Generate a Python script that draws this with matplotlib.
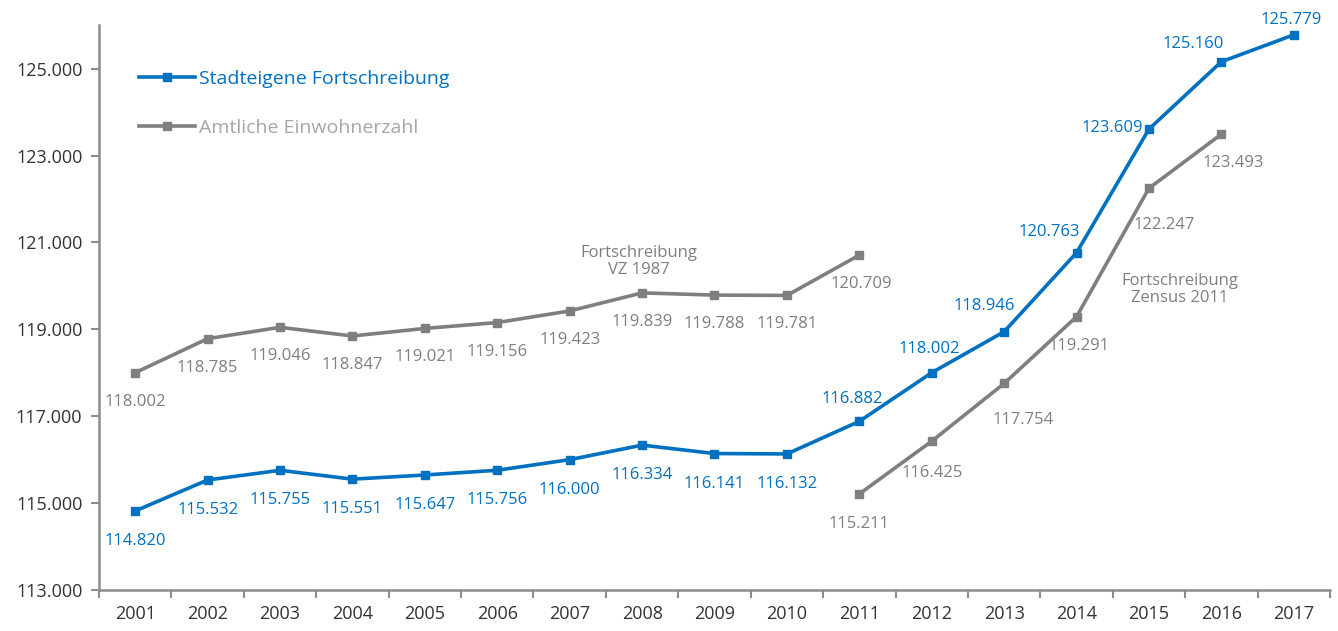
import matplotlib
matplotlib.use('Agg')
import matplotlib.pyplot as plt
import numpy as np

# --- DATA ---
years = [str(y) for y in range(2001, 2018)]
stadt = [114820, 115532, 115755, 115551, 115647, 115756, 116000, 116334, 116141,
         116132, 116882, 118002, 118946, 120763, 123609, 125160, 125779]
amtl_vz87 = [118002, 118785, 119046, 118847, 119021, 119156, 119423, 119839, 119788,
             119781, 120709]                      # 2001-2011
amtl_zensus = [115211, 116425, 117754, 119291, 122247, 123493]   # 2011-2016

BLUE = '#0070C0'
GRAY = '#7F7F7F'
LEG_GRAY = '#A6A6A6'
AXIS = '#8C8C8C'

plt.rcParams['font.family'] = ['Open Sans', 'DejaVu Sans']

fig = plt.figure(figsize=(13.38, 6.31), dpi=100)
ax = fig.add_axes([0.074, 0.065, 0.920, 0.895])

x = np.arange(len(years))
x_vz = x[:len(amtl_vz87)]
x_zen = x[10:10 + len(amtl_zensus)]

line_kw = dict(lw=2.6, marker='s', ms=5.5, solid_joinstyle='miter')
ax.plot(x, stadt, color=BLUE, label='Stadteigene Fortschreibung', **line_kw)
ax.plot(x_vz, amtl_vz87, color=GRAY, label='Amtliche Einwohnerzahl', **line_kw)
ax.plot(x_zen, amtl_zensus, color=GRAY, **line_kw)

def fmt(v):
    return f'{v:,}'.replace(',', '.')

# value labels (offsets in pixels)
blue_off = [(0, -30)] * 10 + [(-7, 22), (-2, 24), (-20, 26), (-27, 21),
                              (-37, 1), (-28, 18), (-3, 15)]
for xi, v, (dx, dy) in zip(x, stadt, blue_off):
    ax.annotate(fmt(v), (xi, v), xytext=(dx, dy), textcoords='offset pixels',
                ha='center', va='center', color=BLUE, fontsize=12)

for xi, v in zip(x_vz, amtl_vz87):
    ax.annotate(fmt(v), (xi, v), xytext=(2 if xi == 10 else 0, -29),
                textcoords='offset pixels', ha='center', va='center',
                color=GRAY, fontsize=12)

zen_off = [(0, -30), (0, -32), (19, -37), (2, -29), (15, -37), (12, -29)]
for xi, v, (dx, dy) in zip(x_zen, amtl_zensus, zen_off):
    ax.annotate(fmt(v), (xi, v), xytext=(dx, dy), textcoords='offset pixels',
                ha='center', va='center', color=GRAY, fontsize=12)

ax.text(6.96, 120560, 'Fortschreibung\nVZ 1987', ha='center', va='center',
        color=GRAY, fontsize=12, linespacing=1.1)
ax.text(14.43, 119920, 'Fortschreibung\nZensus 2011', ha='center', va='center',
        color=GRAY, fontsize=12, linespacing=1.1)

# axes
ax.set_xlim(-0.5, len(years) - 0.5)
ax.set_ylim(113000, 126000)
ax.set_xticks(x)
ax.set_xticklabels(years)
ax.set_xticks(np.arange(-0.5, len(years)), minor=True)
ax.tick_params(axis='x', which='major', length=0, pad=11, labelsize=13,
               labelcolor='#333333')
ax.tick_params(axis='x', which='minor', length=6, width=1.5, color=AXIS,
               direction='out')
ax.set_yticks(np.arange(113000, 126000, 2000))
ax.set_yticklabels([fmt(v) for v in np.arange(113000, 126000, 2000)])
ax.tick_params(axis='y', length=6, width=1.5, color=AXIS, direction='out',
               labelsize=13, labelcolor='#333333', pad=6)

for side in ('top', 'right'):
    ax.spines[side].set_visible(False)
for side in ('left', 'bottom'):
    ax.spines[side].set_color(AXIS)
    ax.spines[side].set_linewidth(1.8)

leg = ax.legend(loc='upper left', bbox_to_anchor=(0.018, 0.952), frameon=False,
                fontsize=14, handlelength=2.9, handletextpad=0.2,
                labelspacing=1.6, labelcolor=[BLUE, LEG_GRAY])

fig.savefig('out.png', dpi=100)
